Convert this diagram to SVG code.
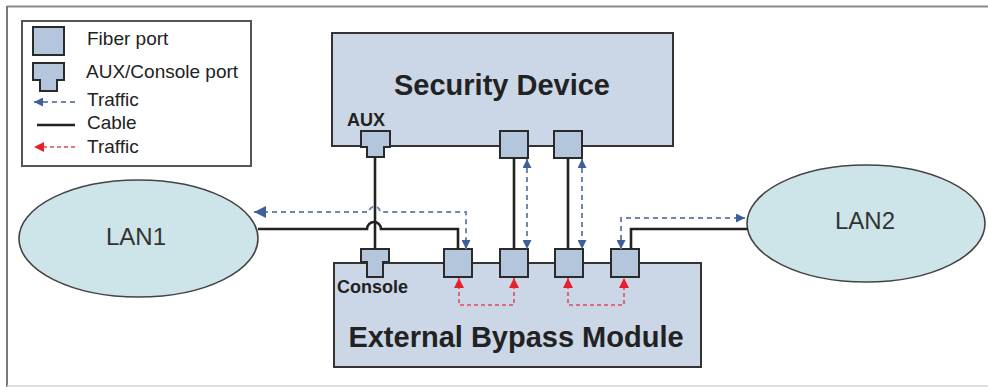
<svg xmlns="http://www.w3.org/2000/svg" width="988" height="387" viewBox="0 0 988 387">
  <style>
    .box { fill: #cbd7e6; stroke: #333; stroke-width: 2; }
    .port { fill: #b4c6dc; stroke: #2a2a2a; stroke-width: 2; }
    .lan { fill: #cde4e9; stroke: #444; stroke-width: 1.6; }
    .cable { fill: none; stroke: #222; stroke-width: 2.6; }
    .blue { fill: none; stroke: #7088ad; stroke-width: 2; stroke-dasharray: 5 4; }
    .red { fill: none; stroke: #e34a5e; stroke-width: 1.6; stroke-dasharray: 4 3; }
    .t { font-family: "Liberation Sans", Arial, sans-serif; fill: #222; }
    .title { font-size: 29px; font-weight: bold; text-anchor: middle; }
    .lbl { font-size: 18px; font-weight: bold; }
    .leg { font-size: 19px; }
    .lantxt { font-size: 24px; text-anchor: middle; fill: #333; }
  </style>
  <defs>
    <marker id="arrowBlue" viewBox="0 0 10 10" refX="10" refY="5" markerWidth="9" markerHeight="9" markerUnits="userSpaceOnUse" orient="auto-start-reverse">
      <path d="M0,0 L10,5 L0,10 z" fill="#3f5f98"/>
    </marker>
    <marker id="arrowBlueBig" viewBox="0 0 10 10" refX="10" refY="5" markerWidth="12" markerHeight="12" markerUnits="userSpaceOnUse" orient="auto-start-reverse">
      <path d="M0,0 L10,5 L0,10 z" fill="#3f5f98"/>
    </marker>
    <marker id="arrowRed" viewBox="0 0 10 10" refX="10" refY="5" markerWidth="10" markerHeight="10" markerUnits="userSpaceOnUse" orient="auto-start-reverse">
      <path d="M0,0 L10,5 L0,10 z" fill="#e8202e"/>
    </marker>
  </defs>

  <!-- page frame -->
  <g id="frame">
    <rect x="0" y="0" width="988" height="387" fill="#fff"/>
    <line x1="7" y1="6.5" x2="988" y2="6.5" stroke="#8a8a8a" stroke-width="2"/>
    <line x1="7" y1="6" x2="7" y2="387" stroke="#7a7a7a" stroke-width="2"/>
    <line x1="7" y1="386" x2="988" y2="386" stroke="#d4d4d4" stroke-width="1.5"/>
  </g>

  <!-- legend -->
  <g id="legend">
    <rect x="22" y="21" width="229" height="145" fill="#fff" stroke="#555" stroke-width="2"/>
    <rect class="port" x="33" y="27" width="31" height="28"/>
    <path class="port" d="M33,63 H64 V80 H57 V91 H40 V80 H33 Z"/>
    <line class="blue" x1="75" y1="102" x2="34" y2="102" marker-end="url(#arrowBlue)"/>
    <line class="cable" x1="37" y1="125" x2="75" y2="125" stroke-width="2"/>
    <line class="red" x1="75" y1="147" x2="34" y2="147" marker-end="url(#arrowRed)"/>
    <text class="t leg" x="87" y="45">Fiber port</text>
    <text class="t leg" x="86" y="78">AUX/Console port</text>
    <text class="t leg" x="87" y="106">Traffic</text>
    <text class="t leg" x="87" y="129">Cable</text>
    <text class="t leg" x="87" y="153">Traffic</text>
  </g>

  <!-- LAN clouds -->
  <g id="lan1">
    <ellipse class="lan" cx="138.5" cy="238.5" rx="119.5" ry="58.5"/>
    <text class="t lantxt" x="136" y="245">LAN1</text>
  </g>
  <g id="lan2">
    <ellipse class="lan" cx="866" cy="223.5" rx="119" ry="58.5"/>
    <text class="t lantxt" x="865" y="229">LAN2</text>
  </g>

  <!-- security device -->
  <g id="security-device">
    <rect class="box" x="332" y="33" width="341" height="113"/>
    <text class="t title" x="502" y="95">Security Device</text>
    <text class="t lbl" x="347" y="126">AUX</text>
    <path class="port" d="M361,131 H390 V147 H384 V157 H367 V147 H361 Z"/>
    <rect class="port" x="500" y="131" width="28" height="27"/>
    <rect class="port" x="554" y="131" width="28" height="27"/>
  </g>

  <!-- external bypass module -->
  <g id="bypass-module">
    <rect class="box" x="334" y="263" width="367" height="104"/>
    <text class="t title" x="516" y="347">External Bypass Module</text>
    <text class="t lbl" x="337" y="293">Console</text>
    <path class="port" d="M361,249 H389 V262 H383 V277 H367 V262 H361 Z"/>
    <rect class="port" x="444" y="249" width="28" height="28"/>
    <rect class="port" x="500" y="249" width="28" height="28"/>
    <rect class="port" x="555" y="249" width="28" height="28"/>
    <rect class="port" x="611" y="249" width="28" height="28"/>
  </g>

  <!-- cables and traffic flows -->
  <g id="connectors">
    <!-- cables -->
    <path class="cable" d="M375,157 V249"/>
    <path class="cable" d="M258,229 H367 A7,7 0 0 1 381,229 H458 V249"/>
    <path class="cable" d="M514,158 V249"/>
    <path class="cable" d="M568,158 V249"/>
    <path class="cable" d="M748,229 H631 V249"/>
    <!-- blue traffic -->
    <path class="blue" d="M254,212 H369 A5,5 0 0 1 380,212 H466 V249" marker-start="url(#arrowBlueBig)" marker-end="url(#arrowBlue)"/>
    <path class="blue" d="M527,159 V249" marker-start="url(#arrowBlue)" marker-end="url(#arrowBlue)"/>
    <path class="blue" d="M582,159 V249" marker-start="url(#arrowBlue)" marker-end="url(#arrowBlue)"/>
    <path class="blue" d="M621,249 V218 H745" marker-start="url(#arrowBlue)" marker-end="url(#arrowBlue)"/>
    <!-- red bypass traffic -->
    <path class="red" d="M459,278 V305 H514 V278" marker-start="url(#arrowRed)" marker-end="url(#arrowRed)"/>
    <path class="red" d="M568,278 V305 H624 V278" marker-start="url(#arrowRed)" marker-end="url(#arrowRed)"/>
  </g>
</svg>
